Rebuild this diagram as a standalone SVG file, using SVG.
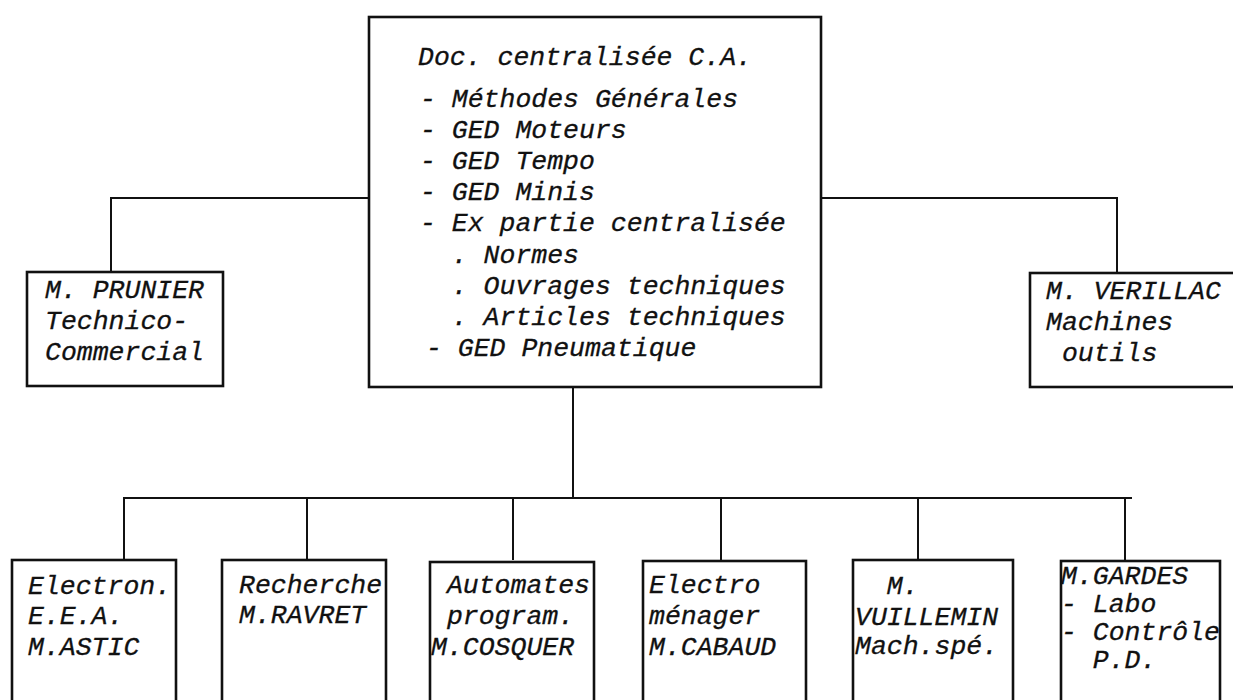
<svg xmlns="http://www.w3.org/2000/svg" width="1233" height="700" viewBox="0 0 1233 700">
<style>
.box{fill:#fff;stroke:#111;stroke-width:2.6}
.con{fill:none;stroke:#111;stroke-width:2}
text{font-family:"Liberation Mono","DejaVu Sans Mono",monospace;font-style:italic;font-size:26.5px;fill:#111;stroke:#111;stroke-width:0.3;white-space:pre}
</style>
<rect width="1233" height="700" fill="#fff"/>
<g id="connectors">
<path class="con" d="M111 272 V198 H369"/>
<path class="con" d="M821 198 H1117 V273"/>
<path class="con" d="M573 387 V498"/>
<path class="con" d="M123 498 H1132" stroke-width="2.6"/>
<path class="con" d="M124 498 V560 M307 498 V560 M513 498 V560 M721 498 V560 M918 498 V560 M1125 498 V560"/>
</g>
<g id="node-top">
<rect class="box" x="369" y="17" width="452" height="370"/>
<text x="418" y="65">Doc. centralisée C.A.</text>
<text x="420" y="107">- Méthodes Générales</text>
<text x="420" y="138">- GED Moteurs</text>
<text x="420" y="169">- GED Tempo</text>
<text x="420" y="200">- GED Minis</text>
<text x="420" y="231">- Ex partie centralisée</text>
<text x="420" y="263">  . Normes</text>
<text x="420" y="294">  . Ouvrages techniques</text>
<text x="420" y="325">  . Articles techniques</text>
<text x="426" y="356">- GED Pneumatique</text>
</g>
<g id="node-prunier">
<rect class="box" x="27" y="272" width="196" height="114"/>
<text x="45" y="298">M. PRUNIER</text>
<text x="45" y="329">Technico-</text>
<text x="45" y="360">Commercial</text>
</g>
<g id="node-verillac">
<rect class="box" x="1030" y="273" width="220" height="114"/>
<text x="1046" y="299">M. VERILLAC</text>
<text x="1046" y="330">Machines</text>
<text x="1046" y="361"> outils</text>
</g>
<g id="node-electron">
<rect class="box" x="12" y="560" width="164" height="160"/>
<text x="28" y="594">Electron.</text>
<text x="28" y="624">E.E.A.</text>
<text x="28" y="655">M.ASTIC</text>
</g>
<g id="node-recherche">
<rect class="box" x="222" y="560" width="164" height="160"/>
<text x="239" y="593">Recherche</text>
<text x="239" y="623">M.RAVRET</text>
</g>
<g id="node-automates">
<rect class="box" x="430" y="562" width="164" height="160"/>
<text x="431" y="593"> Automates</text>
<text x="431" y="624"> program.</text>
<text x="431" y="655">M.COSQUER</text>
</g>
<g id="node-electromenager">
<rect class="box" x="643" y="561" width="163" height="160"/>
<text x="649" y="593">Electro</text>
<text x="649" y="624">ménager</text>
<text x="649" y="655">M.CABAUD</text>
</g>
<g id="node-vuillemin">
<rect class="box" x="853" y="560" width="160" height="160"/>
<text x="855" y="594">  M.</text>
<text x="855" y="625">VUILLEMIN</text>
<text x="855" y="654">Mach.spé.</text>
</g>
<g id="node-gardes">
<rect class="box" x="1061" y="561" width="159" height="160"/>
<text x="1061" y="584">M.GARDES</text>
<text x="1061" y="612">- Labo</text>
<text x="1061" y="640">- Contrôle</text>
<text x="1061" y="668">  P.D.</text>
</g>
</svg>
